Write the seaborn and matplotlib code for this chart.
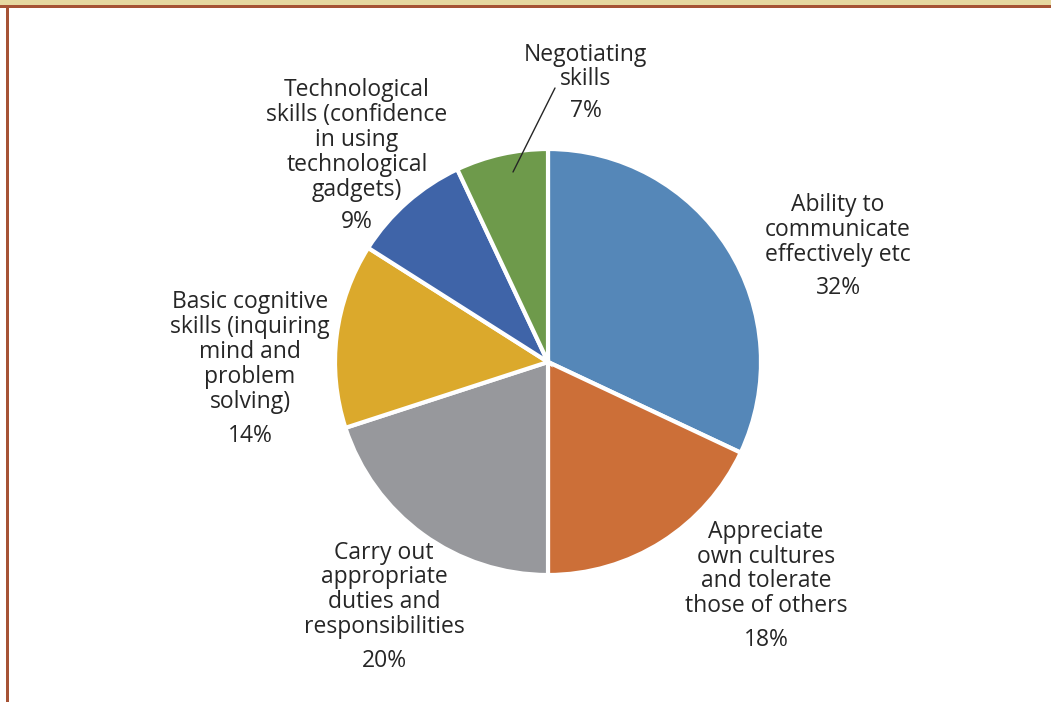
import matplotlib
matplotlib.use("Agg")
import matplotlib.pyplot as plt
from matplotlib.patches import Rectangle
import seaborn as sns

sns.set_theme(style="white")
plt.rcParams["font.family"] = ["Open Sans", "DejaVu Sans"]

# Skill categories and their shares (%)
skills = [
    "Ability to\ncommunicate\neffectively etc",
    "Appreciate\nown cultures\nand tolerate\nthose of others",
    "Carry out\nappropriate\nduties and\nresponsibilities",
    "Basic cognitive\nskills (inquiring\nmind and\nproblem\nsolving)",
    "Technological\nskills (confidence\nin using\ntechnological\ngadgets)",
    "Negotiating\nskills",
]
shares = [32, 18, 20, 14, 9, 7]
colors = ["#5587B8", "#CC6F38", "#97989C", "#DBA92C", "#3F64A8", "#6E9A4B"]

# Label placement in pie-radius units: (x, name block centre y, percentage y)
label_pos = [
    (1.362, 0.620, 0.347),
    (1.023, -0.972, -1.305),
    (-0.770, -1.070, -1.404),
    (-1.399, 0.047, -0.347),
    (-0.897, 1.042, 0.657),
    (0.178, 1.385, 1.178),
]

W, H, DPI = 1051, 702, 100
cx, cy, R = 548, 362, 213

fig = plt.figure(figsize=(W / DPI, H / DPI), dpi=DPI)
fig.patch.set_facecolor("white")
ax = fig.add_axes([0, 0, 1, 1])

wedges, _ = ax.pie(
    shares,
    colors=colors,
    startangle=90,
    counterclock=False,
    radius=1.0,
    wedgeprops=dict(edgecolor="white", linewidth=3),
)
ax.set_aspect("auto")
ax.set_xlim(-cx / R, (W - cx) / R)
ax.set_ylim(-(H - cy) / R, cy / R)
ax.axis("off")

txt_color = "#262626"
fs = 16.5
for name, val, (x, y, yp) in zip(skills, shares, label_pos):
    ax.text(x, y, name, ha="center", va="center", fontsize=fs,
            color=txt_color, linespacing=1.05)
    ax.text(x, yp, f"{val}%", ha="center", va="center", fontsize=fs,
            color=txt_color)

# Leader line for the small green slice
ax.plot([(555 - cx) / R, (513 - cx) / R], [(cy - 88) / R, (cy - 172) / R],
        color="#262626", linewidth=1.0)

# Page decoration: tan header strip, brown rules
fig.add_artist(Rectangle((0, 1 - 5 / H), 1, 5 / H, transform=fig.transFigure,
                         facecolor="#E6D8A0", edgecolor="none"))
fig.add_artist(Rectangle((0, 1 - 8 / H), 1, 3 / H, transform=fig.transFigure,
                         facecolor="#A65335", edgecolor="none"))
fig.add_artist(Rectangle((6 / W, 0), 2.5 / W, 1 - 5 / H, transform=fig.transFigure,
                         facecolor="#A65335", edgecolor="none"))

fig.savefig("out.png", dpi=DPI)
